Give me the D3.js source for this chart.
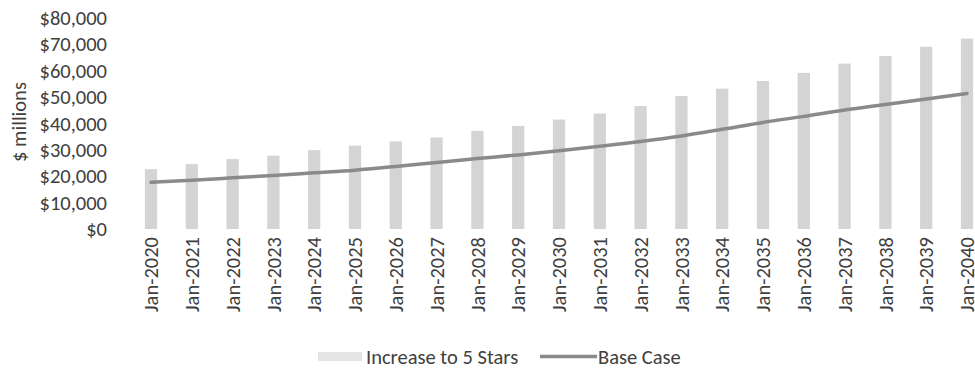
<!DOCTYPE html>
<html><head><meta charset="utf-8">
<script src="https://cdn.jsdelivr.net/npm/d3@7"></script>
<style>
body{margin:0;background:#fff;}
text{font-family:Carlito,Calibri,Lato,"Open Sans",sans-serif;fill:#404040;}
</style></head>
<body><svg id="c" width="975" height="369"></svg>
<script>
const categories = ["Jan-2020","Jan-2021","Jan-2022","Jan-2023","Jan-2024","Jan-2025","Jan-2026","Jan-2027","Jan-2028","Jan-2029","Jan-2030","Jan-2031","Jan-2032","Jan-2033","Jan-2034","Jan-2035","Jan-2036","Jan-2037","Jan-2038","Jan-2039","Jan-2040"];
const increaseTo5Stars = [22700,24600,26500,27800,29900,31600,33200,34700,37200,39100,41500,43800,46600,50400,53200,56100,59200,62700,65600,69100,72200];
const baseCase = [17700,18500,19400,20300,21300,22300,23700,25200,26700,28100,29700,31400,33200,35300,37800,40400,42700,45100,47200,49300,51400];
const yTicks = [0,10000,20000,30000,40000,50000,60000,70000,80000];
const seriesNames = ["Increase to 5 Stars","Base Case"];

const FS = "20.5px";
const FF = "Carlito,Calibri,Lato,sans-serif";
const svg = d3.select("#c");
const x = d3.scaleBand().domain(categories).range([130.6,987.4]).paddingInner(0.7).paddingOuter(0.35);
const y = d3.scaleLinear().domain([0,80000]).range([229,18]);
const fmt = v => "$" + d3.format(",")(v);

// y axis
const ya = svg.append("g").attr("transform","translate(109,0)")
  .call(d3.axisLeft(y).tickValues(yTicks).tickFormat(fmt).tickSize(0).tickPadding(2));
ya.select(".domain").remove();
ya.selectAll("text").style("font-size",FS).style("font-family",FF).attr("fill","#404040");

svg.append("text").attr("transform","translate(19,122) rotate(-90)").attr("text-anchor","middle")
  .attr("dy","0.35em").style("font-size",FS).text("$ millions");

// bars
svg.append("g").selectAll("rect").data(categories).join("rect")
  .attr("x",d=>x(d)).attr("width",x.bandwidth())
  .attr("y",(d,i)=>y(increaseTo5Stars[i])).attr("height",(d,i)=>y(0)-y(increaseTo5Stars[i]))
  .attr("fill","#d4d4d4");

// line
const line = d3.line().x((d,i)=>x(categories[i])+x.bandwidth()/2).y(d=>y(d)).curve(d3.curveMonotoneX);
svg.append("path").datum(baseCase).attr("d",line).attr("fill","none")
  .attr("stroke","#8a8a8a").attr("stroke-width",3.5).attr("stroke-linecap","round");

// x axis
const xa = svg.append("g").attr("transform","translate(0,233)")
  .call(d3.axisBottom(x).tickSize(0).tickPadding(0));
xa.select(".domain").remove();
xa.selectAll("text").attr("transform","rotate(-90)").attr("text-anchor","end")
  .attr("x",-4).attr("y",0).attr("dy","0.35em")
  .style("font-size",FS).style("font-family",FF).attr("fill","#404040");

// legend
const lg = svg.append("g");
lg.append("rect").attr("x",318).attr("y",352).attr("width",44).attr("height",9).attr("fill","#e4e4e4");
lg.append("text").attr("x",366).attr("y",357).attr("dy","0.35em").style("font-size",FS).text(seriesNames[0]);
lg.append("line").attr("x1",540).attr("x2",597).attr("y1",356.5).attr("y2",356.5).attr("stroke","#8a8a8a").attr("stroke-width",3.5);
lg.append("text").attr("x",598).attr("y",357).attr("dy","0.35em").style("font-size",FS).text(seriesNames[1]);
</script></body></html>
